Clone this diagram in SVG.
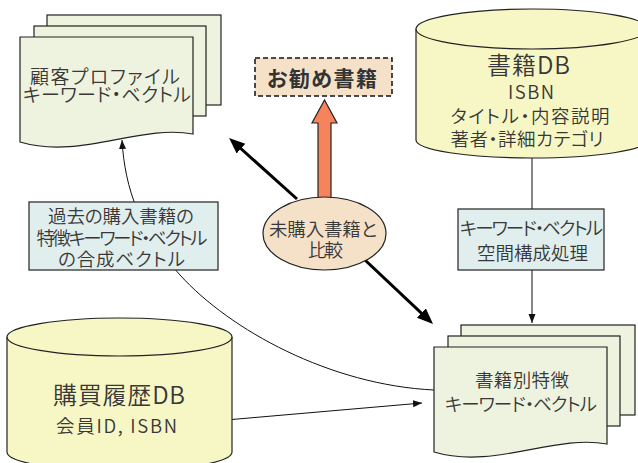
<svg xmlns="http://www.w3.org/2000/svg" width="638" height="463" viewBox="0 0 638 463">
<defs>
<style>
text{font-family:"Noto Sans CJK JP","Noto Sans",sans-serif;fill:#383838;text-anchor:middle;font-size:18.5px;font-weight:350;font-feature-settings:"palt"}
.big{font-size:24px}
.tl{font-size:19px}
.bold{font-weight:bold;font-size:21px;fill:#333}
.doc{fill:#eef3df;stroke:#222;stroke-width:1.2}
.cyl{fill:#f7f7c6;stroke:#222;stroke-width:1.2}
.box{fill:#e0eeee;stroke:#222;stroke-width:1.2}
.thin{fill:none;stroke:#111;stroke-width:1}
.thick{fill:none;stroke:#000;stroke-width:3}
</style>
<marker id="ah" markerUnits="userSpaceOnUse" markerWidth="10" markerHeight="8" refX="9" refY="3.5" orient="auto"><path d="M0,0 L9,3.5 L0,7 z" fill="#111"/></marker>
<marker id="ahb" markerUnits="userSpaceOnUse" markerWidth="18" markerHeight="14" refX="4" refY="6.5" orient="auto"><path d="M0,0 L16,6.5 L0,13 z" fill="#000"/></marker>
<g id="docshape">
<rect class="doc" x="47" y="15" width="174" height="90"/>
<rect class="doc" x="34" y="26" width="172" height="90"/>
<path class="doc" d="M20,37 H193 V134 C140,124 80,160 20,142 Z"/>
</g>
</defs>

<g id="connectors">
<path class="thin" d="M532,158 V209"/>
<path class="thin" d="M532,270 V323" marker-end="url(#ah)"/>
<path class="thin" d="M434,390 C330,385 230,330 180,275 C140,230 125,190 122,140" marker-end="url(#ah)"/>
<path class="thin" d="M203,422 L422,403" marker-end="url(#ah)"/>
<path class="thick" d="M297,199 L238,146" marker-end="url(#ahb)"/>
<path class="thick" d="M365,260 L424.3,315.8" marker-end="url(#ahb)"/>
<polygon points="318,200 318,123 312,123 324.5,100 337,123 331,123 331,200" fill="#f5845c" stroke="#222" stroke-width="1.2"/>
</g>

<g id="profile">
<use href="#docshape"/>
<text class="tl" x="105" y="84" textLength="150">顧客プロファイル</text>
<text class="tl" x="107" y="102" textLength="168">キーワード・ベクトル</text>
</g>

<g id="recommend">
<rect x="255" y="58" width="137" height="38" fill="#f5e1c8" stroke="#111" stroke-width="1.5" stroke-dasharray="5,3"/>
<text class="bold" x="322" y="86" textLength="110">お勧め書籍</text>
</g>

<g id="bookdb">
<path class="cyl" d="M416,29 V140 A116,18 0 0 0 648,140 V29"/>
<ellipse class="cyl" cx="532" cy="29" rx="116" ry="20"/>
<text class="big" x="528.5" y="74" textLength="83">書籍DB</text>
<text x="531" y="99" textLength="46">ISBN</text>
<text x="530" y="123" textLength="159">タイトル・内容説明</text>
<text x="527" y="146" textLength="153">著者・詳細カテゴリ</text>
</g>

<g id="past">
<rect class="box" x="29" y="202" width="189" height="68"/>
<text x="121" y="223" textLength="146">過去の購入書籍の</text>
<text x="122" y="245" textLength="171">特徴キーワード・ベクトル</text>
<text x="121.5" y="266" textLength="127">の合成ベクトル</text>
</g>

<g id="compare">
<ellipse cx="324.5" cy="233.5" rx="61.5" ry="36.5" fill="#f5e1c8" stroke="#222" stroke-width="1.2"/>
<text x="323" y="236" textLength="108">未購入書籍と</text>
<text x="325.5" y="257" textLength="35">比較</text>
</g>

<g id="space">
<rect class="box" x="458" y="209" width="146" height="61"/>
<text x="531.5" y="235" textLength="143">キーワード・ベクトル</text>
<text x="532.5" y="260" textLength="111">空間構成処理</text>
</g>

<g id="bookfeat">
<use href="#docshape" transform="translate(414,310)"/>
<text x="522" y="387" textLength="94">書籍別特徴</text>
<text x="521" y="411" textLength="152">キーワード・ベクトル</text>
</g>

<g id="history">
<path class="cyl" d="M7,337 V452 A112.5,19 0 0 0 232,452 V337"/>
<ellipse class="cyl" cx="119.5" cy="337" rx="112.5" ry="19"/>
<text class="big" x="119" y="404" textLength="132">購買履歴DB</text>
<text x="116.5" y="433" textLength="121">会員ID, ISBN</text>
</g>
</svg>
